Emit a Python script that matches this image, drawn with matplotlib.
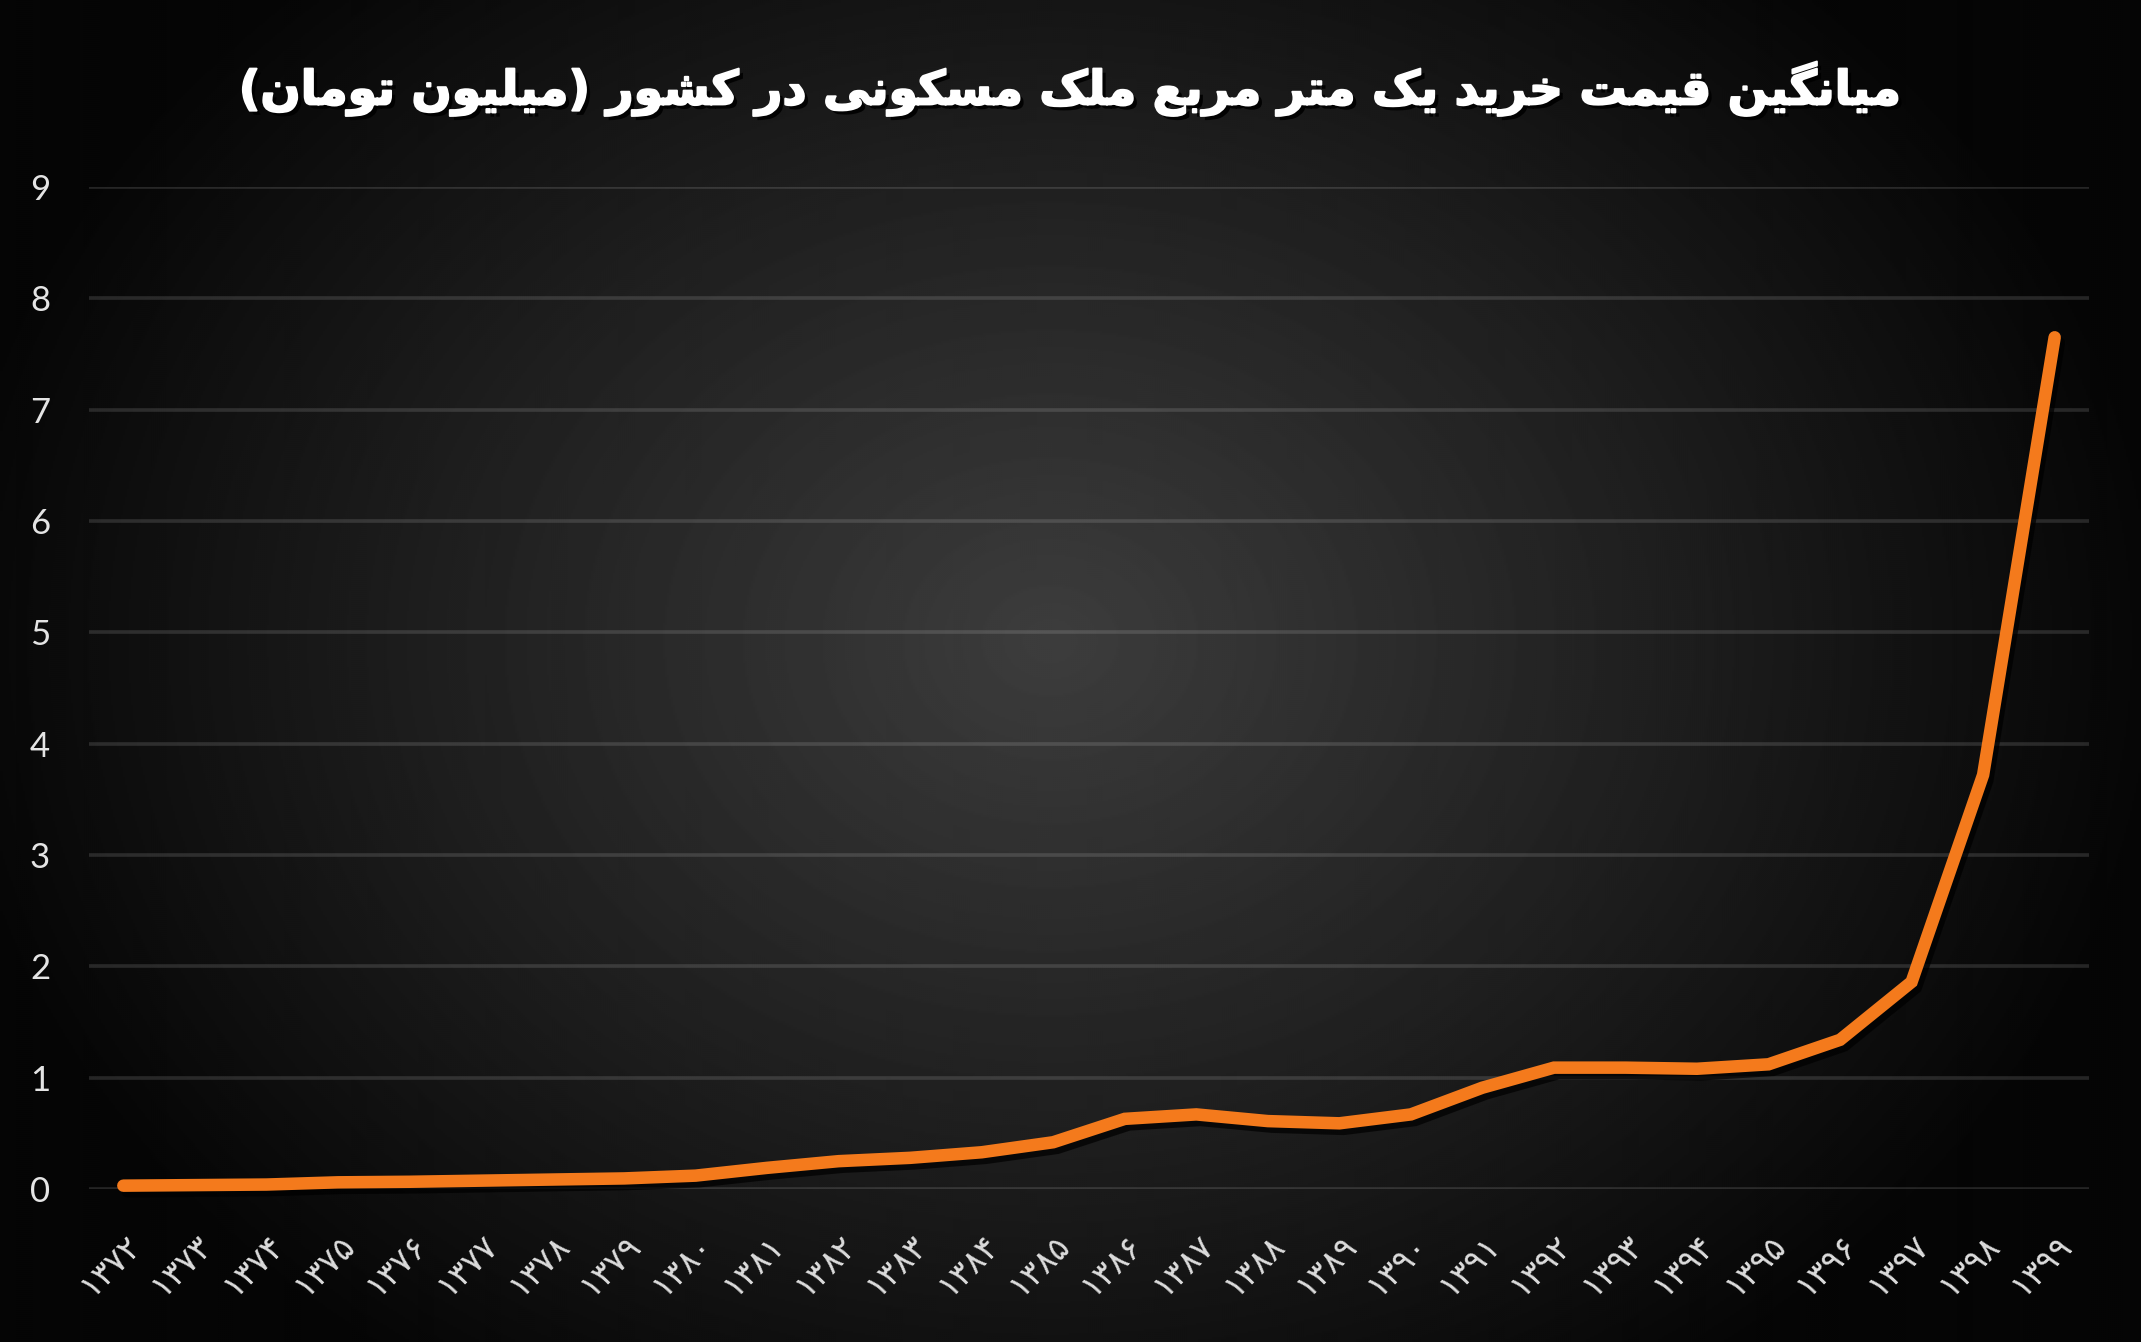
import numpy as np
import matplotlib
matplotlib.use("Agg")
import matplotlib.pyplot as plt
import matplotlib.patheffects as pe

# ---------------- data ----------------
TITLE = "میانگین قیمت خرید یک متر مربع ملک مسکونی در کشور (میلیون تومان)"
YEARS = [1372, 1373, 1374, 1375, 1376, 1377, 1378, 1379, 1380, 1381,
         1382, 1383, 1384, 1385, 1386, 1387, 1388, 1389, 1390, 1391,
         1392, 1393, 1394, 1395, 1396, 1397, 1398, 1399]
PRICE = [0.03, 0.035, 0.04, 0.06, 0.065, 0.075, 0.085, 0.095, 0.12, 0.19,
         0.25, 0.28, 0.33, 0.42, 0.63, 0.67, 0.61, 0.59, 0.67, 0.91,
         1.09, 1.09, 1.08, 1.12, 1.34, 1.86, 3.72, 7.65]
YTICKS = [0, 1, 2, 3, 4, 5, 6, 7, 8, 9]

# ---------------- minimal Persian shaping ----------------
FORMS = {
    'ا': ('\uFE8D', '\uFE8E', None, None),
    'ب': ('\uFE8F', '\uFE90', '\uFE91', '\uFE92'),
    'ت': ('\uFE95', '\uFE96', '\uFE97', '\uFE98'),
    'خ': ('\uFEA5', '\uFEA6', '\uFEA7', '\uFEA8'),
    'د': ('\uFEA9', '\uFEAA', None, None),
    'ر': ('\uFEAD', '\uFEAE', None, None),
    'س': ('\uFEB1', '\uFEB2', '\uFEB3', '\uFEB4'),
    'ش': ('\uFEB5', '\uFEB6', '\uFEB7', '\uFEB8'),
    'ع': ('\uFEC9', '\uFECA', '\uFECB', '\uFECC'),
    'ق': ('\uFED5', '\uFED6', '\uFED7', '\uFED8'),
    'ل': ('\uFEDD', '\uFEDE', '\uFEDF', '\uFEE0'),
    'م': ('\uFEE1', '\uFEE2', '\uFEE3', '\uFEE4'),
    'ن': ('\uFEE5', '\uFEE6', '\uFEE7', '\uFEE8'),
    'و': ('\uFEED', '\uFEEE', None, None),
    'ی': ('\uFBFC', '\uFBFD', '\uFBFE', '\uFBFF'),
    'ک': ('\uFB8E', '\uFB8F', '\uFB90', '\uFB91'),
    'گ': ('\uFB92', '\uFB93', '\uFB94', '\uFB95'),
}


def shape_rtl(s):
    out = []
    for i, c in enumerate(s):
        if c not in FORMS:
            out.append(c)
            continue
        prev = s[i - 1] if i > 0 else None
        nxt = s[i + 1] if i + 1 < len(s) else None
        f = FORMS[c]
        jp = prev in FORMS and FORMS[prev][2] is not None
        jn = f[2] is not None and nxt in FORMS
        if jp and jn:
            out.append(f[3])
        elif jp:
            out.append(f[1])
        elif jn:
            out.append(f[2])
        else:
            out.append(f[0])
    vis = ''.join(out)[::-1]
    return vis.translate(str.maketrans({'(': ')', ')': '('}))


FA_DIGITS = str.maketrans('0123456789', '۰۱۲۳۴۵۶۷۸۹')
xlabels = [str(y).translate(FA_DIGITS) for y in YEARS]

# ---------------- figure ----------------
W, H = 2141, 1342
fig = plt.figure(figsize=(W / 100, H / 100), dpi=100)

# radial gradient background
bg = fig.add_axes([0, 0, 1, 1])
bg.axis('off')
yy, xx = np.mgrid[0:H:2, 0:W:2]
cx, cy = 1050, 640
d = np.sqrt(((xx - cx) / 1120.0) ** 2 + ((yy - cy) / 900.0) ** 2)
v = 0.24 - 0.22 * np.clip(d, 0, 1) ** 1.0
bg.imshow(v, cmap='gray', vmin=0, vmax=1, extent=[0, 1, 0, 1],
          origin='upper', aspect='auto', interpolation='bilinear')
bg.set_xlim(0, 1)
bg.set_ylim(0, 1)

ax = fig.add_axes([89 / W, 1 - 1189 / H, 2000 / W, (1189 - 187) / H])
ax.set_facecolor('none')
x = np.arange(len(YEARS))
ax.set_xlim(-0.48, len(YEARS) - 1 + 0.48)
ax.set_ylim(0, 9)
ax.set_yticks(YTICKS)
ax.set_yticklabels([str(t) for t in YTICKS], fontsize=25, color='#e4e4e4',
                   family=['Lato', 'DejaVu Sans'])
ax.grid(axis='y', color='white', alpha=0.13, lw=2.6)
ax.set_axisbelow(True)
for s in ax.spines.values():
    s.set_visible(False)
ax.tick_params(axis='y', length=0, pad=28)
ax.tick_params(axis='x', length=0, pad=28)

ax.set_xticks(x)
ax.set_xticklabels(xlabels, rotation=45, ha='right', va='top',
                   rotation_mode='anchor', fontsize=24, color='#dcdcdc',
                   family=['DejaVu Sans'])

ax.plot(x, PRICE, color='#F47A1C', lw=9, solid_capstyle='round',
        solid_joinstyle='miter', clip_on=False, zorder=5,
        path_effects=[pe.SimpleLineShadow(offset=(3, -4), shadow_color='black', alpha=0.7),
                      pe.Normal()])

fig.text(0.5, 1 - 89 / H, shape_rtl(TITLE), ha='center', va='center',
         fontsize=34, fontweight='bold', color='white', family=['DejaVu Sans'],
         path_effects=[pe.withSimplePatchShadow(offset=(3, -3), shadow_rgbFace='black', alpha=0.9),
                       pe.withStroke(linewidth=1.4, foreground='white')])

fig.savefig('out.png', dpi=100)
